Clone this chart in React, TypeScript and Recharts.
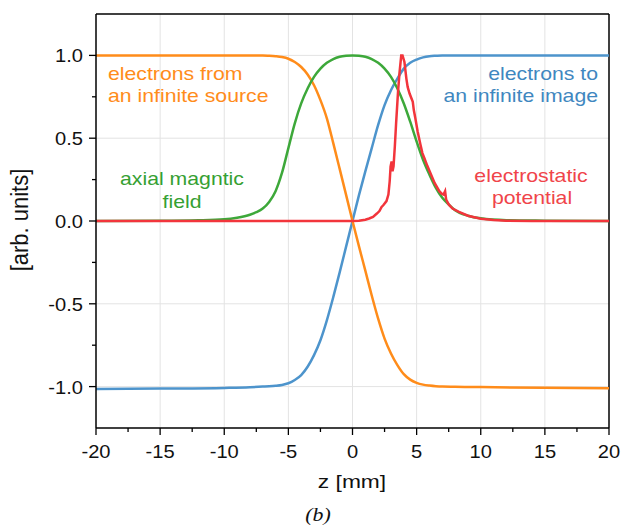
import React from 'react';
import { LineChart, Line, XAxis, YAxis, CartesianGrid, ReferenceLine } from 'recharts';

// z positions [mm] and normalised values
const imageZ = [-20, -15, -10, -8, -7, -6.5, -6, -5.5, -5, -4.5, -4, -3.5, -3, -2.5, -2, -1.5, -1, -0.5, 0, 0.5, 1, 1.5, 2, 2.5, 3, 3.5, 4, 4.5, 5, 5.5, 6, 6.5, 7, 8, 10, 15, 20];
const imageV = [-1.015, -1.012, -1.008, -1.004, -1.0, -0.998, -0.995, -0.99, -0.98, -0.96, -0.93, -0.88, -0.81, -0.72, -0.6, -0.46, -0.31, -0.155, 0, 0.155, 0.3, 0.44, 0.58, 0.7, 0.79, 0.86, 0.92, 0.955, 0.975, 0.988, 0.995, 0.998, 1.0, 1.0, 1.0, 1.0, 1.0];

const sourceZ = [-20, -15, -10, -8, -7, -6.5, -6, -5.5, -5, -4.5, -4, -3.5, -3, -2.5, -2, -1.5, -1, -0.5, 0, 0.5, 1, 1.5, 2, 2.5, 3, 3.5, 4, 4.5, 5, 5.5, 6, 6.5, 7, 8, 10, 15, 20];
const sourceV = [1.0, 1.0, 1.0, 1.0, 1.0, 0.998, 0.995, 0.99, 0.98, 0.96, 0.93, 0.885, 0.82, 0.73, 0.62, 0.47, 0.315, 0.158, 0, -0.152, -0.3, -0.45, -0.59, -0.71, -0.8, -0.87, -0.925, -0.958, -0.977, -0.988, -0.994, -0.998, -1.0, -1.001, -1.003, -1.007, -1.01];

const fieldZ = [-20, -15, -12, -10, -9, -8, -7.5, -7, -6.5, -6, -5.5, -5, -4.5, -4, -3.5, -3, -2.5, -2, -1.5, -1, -0.5, 0, 0.5, 1, 1.5, 2, 2.5, 3, 3.5, 4, 4.5, 5, 5.5, 6, 6.5, 7, 7.5, 8, 9, 10, 12, 15, 20];
const fieldV = [0, 0.001, 0.004, 0.01, 0.02, 0.038, 0.053, 0.075, 0.115, 0.18, 0.29, 0.44, 0.59, 0.71, 0.8, 0.87, 0.92, 0.955, 0.978, 0.992, 0.998, 1.0, 0.998, 0.992, 0.978, 0.955, 0.92, 0.87, 0.8, 0.71, 0.6, 0.48, 0.37, 0.28, 0.2, 0.14, 0.1, 0.065, 0.032, 0.016, 0.005, 0.002, 0];

const potentialZ = [-20, -10, -5, 0, 0.5, 1, 1.3, 1.6, 1.9, 2.1, 2.27, 2.4, 2.65, 2.8, 2.9, 2.97, 3.05, 3.12, 3.2, 3.3, 3.4, 3.55, 3.66, 3.8, 3.9, 4.05, 4.2, 4.3, 4.45, 4.6, 4.7, 4.78, 4.9, 5.08, 5.3, 5.45, 5.6, 5.7, 5.85, 6.13, 6.4, 6.77, 6.95, 7.1, 7.22, 7.3, 7.5, 7.8, 8.3, 9, 10, 11, 12, 14, 20];
const potentialV = [0, 0, 0, 0, 0.002, 0.008, 0.015, 0.025, 0.045, 0.06, 0.085, 0.095, 0.12, 0.16, 0.24, 0.33, 0.36, 0.3, 0.33, 0.45, 0.59, 0.78, 0.89, 1.0, 1.0, 0.96, 0.86, 0.81, 0.77, 0.74, 0.72, 0.67, 0.62, 0.54, 0.46, 0.41, 0.38, 0.36, 0.33, 0.28, 0.23, 0.18, 0.165, 0.16, 0.18, 0.13, 0.1, 0.075, 0.055, 0.032, 0.014, 0.006, 0.002, 0, 0];

const xTicks = [-20, -17.5, -15, -12.5, -10, -7.5, -5, -2.5, 0, 2.5, 5, 7.5, 10, 12.5, 15, 17.5, 20];
const yTicks = [-1, -0.75, -0.5, -0.25, 0, 0.25, 0.5, 0.75, 1];
const xGrid = [-15, -10, -5, 0, 5, 10, 15];
const yGrid = [-1, -0.5, 0, 0.5, 1];

const zip = (zs: number[], vs: number[]) => zs.map((z, i) => ({ z, v: vs[i] }));
const imageData = zip(imageZ, imageV);
const sourceData = zip(sourceZ, sourceV);
const fieldData = zip(fieldZ, fieldV);
const potentialData = zip(potentialZ, potentialV);

const W = 622;
const H = 527;
const LEFT = 96;
const BOTTOM = 428;
const FONT = '"Liberation Sans", Arial, sans-serif';
const TICK_SX = 1.06;

const ORANGE = '#FF8C1A';
const BLUE = '#4D94CC';
const GREEN = '#3DA83A';
const RED = '#F2353C';

const XTick = (props: any) => {
  const { x, payload } = props;
  const v = payload.value;
  const major = Math.abs(v % 5) < 1e-6;
  return (
    <g>
      <line x1={x} x2={x} y1={BOTTOM} y2={BOTTOM + (major ? 7 : 4)} stroke="#000" strokeWidth={1.3} />
      {major && (
        <text transform={`translate(${x} ${BOTTOM + 30}) scale(${TICK_SX} 1)`} textAnchor="middle"
          fontFamily={FONT} fontSize={19} fill="#111">{v}</text>
      )}
    </g>
  );
};

const YTick = (props: any) => {
  const { y, payload } = props;
  const v = payload.value;
  const major = Math.abs((v * 2) % 1) < 1e-6;
  return (
    <g>
      <line x1={LEFT - (major ? 7 : 4)} x2={LEFT} y1={y} y2={y} stroke="#000" strokeWidth={1.3} />
      {major && (
        <text transform={`translate(${LEFT - 13} ${y + 7}) scale(${TICK_SX} 1)`} textAnchor="end"
          fontFamily={FONT} fontSize={19} fill="#111">{v.toFixed(1)}</text>
      )}
    </g>
  );
};

const Note = ({ x, y, anchor, color, children }: any) => (
  <text transform={`translate(${x} ${y}) scale(1.18 1)`} textAnchor={anchor} fontFamily={FONT} fontSize={18} fill={color}>
    {children}
  </text>
);

export default function App() {
  return (
    <div style={{ position: 'absolute', left: 0, top: 0, width: W, height: H, background: '#fff' }}>
      <LineChart width={W} height={H} margin={{ top: 14, right: 13, left: 36, bottom: 40 }}>
        <CartesianGrid stroke="#e3e3e3" strokeWidth={1} verticalValues={xGrid} horizontalValues={yGrid} />
        <XAxis type="number" dataKey="z" domain={[-20, 20]} ticks={xTicks} interval={0} allowDataOverflow
          height={59} tickLine={false} tick={<XTick />} axisLine={{ stroke: '#000', strokeWidth: 1.5 }} />
        <YAxis type="number" domain={[-1.25, 1.25]} ticks={yTicks} interval={0} allowDataOverflow
          width={60} tickLine={false} tick={<YTick />} axisLine={{ stroke: '#000', strokeWidth: 1.5 }} />
        <ReferenceLine x={20} stroke="#000" strokeWidth={1.5} />
        <ReferenceLine y={1.25} stroke="#000" strokeWidth={1.5} />
        <Line data={imageData} dataKey="v" type="monotone" stroke={BLUE} strokeWidth={2.5} dot={false} isAnimationActive={false} />
        <Line data={sourceData} dataKey="v" type="monotone" stroke={ORANGE} strokeWidth={2.5} dot={false} isAnimationActive={false} />
        <Line data={fieldData} dataKey="v" type="monotone" stroke={GREEN} strokeWidth={2.5} dot={false} isAnimationActive={false} />
        <Line data={potentialData} dataKey="v" type="linear" stroke={RED} strokeWidth={2.5} dot={false} isAnimationActive={false} />
      </LineChart>
      <svg width={W} height={H} style={{ position: 'absolute', left: 0, top: 0, pointerEvents: 'none' }}>
        <Note x={108} y={80} anchor="start" color={ORANGE}>electrons from</Note>
        <Note x={108} y={102} anchor="start" color={ORANGE}>an infinite source</Note>
        <Note x={598} y={80} anchor="end" color="#3F87C0">electrons to</Note>
        <Note x={598} y={102} anchor="end" color="#3F87C0">an infinite image</Note>
        <Note x={182} y={185} anchor="middle" color="#35A032">axial magntic</Note>
        <Note x={182} y={208} anchor="middle" color="#35A032">field</Note>
        <Note x={531} y={182} anchor="middle" color="#F0444A">electrostatic</Note>
        <Note x={532} y={204} anchor="middle" color="#F0444A">potential</Note>
        <text transform={`translate(352 488) scale(1.2 1)`} textAnchor="middle" fontFamily={FONT} fontSize={19} fill="#111">z [mm]</text>
        <text transform={`translate(28 220) rotate(-90) scale(1 1.1)`} textAnchor="middle" fontFamily={FONT} fontSize={22} fill="#111">[arb. units]</text>
        <text transform={`translate(318 521) scale(1.15 1)`} textAnchor="middle" fontFamily='"Liberation Serif", "Times New Roman", serif'
          fontStyle="italic" fontSize={19} fill="#111">(b)</text>
      </svg>
    </div>
  );
}
